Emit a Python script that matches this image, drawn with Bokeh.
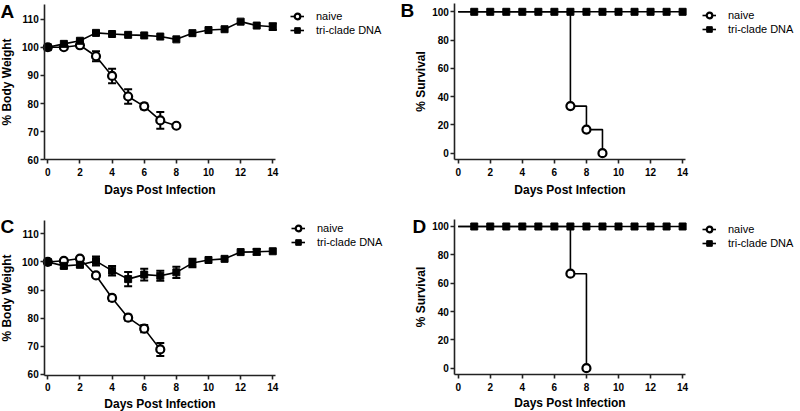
from bokeh.plotting import figure
from bokeh.layouts import gridplot
from bokeh.models import (ColumnDataSource, Whisker, TeeHead, Legend, LegendItem,
                          Range1d, FixedTicker, Label)
from bokeh.embed import file_html
from bokeh.resources import INLINE

FONT = "Liberation Sans"

# ---------------- data ----------------
days = list(range(15))
x_ticks = [0, 2, 4, 6, 8, 10, 12, 14]
weight_ticks = [60, 70, 80, 90, 100, 110]
surv_ticks = [0, 20, 40, 60, 80, 100]

# Panel A: % body weight
naive_A = [100.0, 100.0, 100.7, 96.8, 89.8, 82.5, 79.0, 74.0, 72.1]
naive_A_err = [0, 0, 0, 1.8, 2.6, 2.6, 1.0, 3.0, 0]
tri_A = [100.0, 101.2, 102.3, 105.1, 104.7, 104.4, 104.2, 103.8, 102.8,
         105.0, 106.1, 106.4, 109.1, 107.7, 107.3]
tri_A_err = [0, 0, 0, 0, 0, 0, 0, 0, 0, 0, 0, 0, 0, 0, 1.2]

# Panel B: % survival
naive_B_days = [0, 7, 8, 9]
naive_B = [100, 33.3, 16.7, 0]
tri_B = [100] * 15

# Panel C: % body weight
naive_C = [100.0, 100.4, 101.2, 95.2, 87.2, 80.2, 76.3, 68.9]
naive_C_err = [0, 0, 0, 0, 1.0, 1.0, 1.3, 2.3]
tri_C = [100.0, 98.6, 99.0, 100.3, 96.9, 93.9, 95.5, 95.1, 96.3,
         99.6, 100.7, 101.1, 103.5, 103.6, 103.8]
tri_C_err = [0, 0.8, 0.9, 1.6, 1.7, 2.5, 2.1, 1.8, 2.0, 1.5, 0, 0, 0, 1.0, 0]

# Panel D: % survival
naive_D_days = [0, 7, 8]
naive_D = [100, 66.7, 0]
tri_D = [100] * 15

AX = "#222222"


def base_fig(height, xr, yr, xaxis_at, yaxis_at, xbounds, ybounds, yticks, ylabel,
             ylab_std, xlab_std):
    p = figure(width=400, height=height, output_backend="svg", toolbar_location=None,
               x_range=Range1d(*xr), y_range=Range1d(*yr),
               min_border_left=0, min_border_right=0,
               min_border_top=0, min_border_bottom=0)
    p.outline_line_color = None
    p.grid.grid_line_color = None
    p.xaxis.ticker = FixedTicker(ticks=x_ticks)
    p.yaxis.ticker = FixedTicker(ticks=yticks)
    for ax in (p.xaxis[0], p.yaxis[0]):
        ax.axis_line_color = AX
        ax.axis_line_width = 1.6
        ax.major_tick_line_color = AX
        ax.major_tick_line_width = 1.6
        ax.major_tick_out = 4
        ax.major_tick_in = 0
        ax.minor_tick_line_color = None
        ax.major_label_text_font = FONT
        ax.major_label_text_font_size = "10px"
        ax.major_label_text_font_style = "bold"
        ax.major_label_text_color = "black"
        ax.axis_label_text_font = FONT
        ax.axis_label_text_font_size = "12px"
        ax.axis_label_text_font_style = "bold"
        ax.axis_label_text_color = "black"
    p.xaxis.axis_label = "Days Post Infection"
    p.yaxis.axis_label = ylabel
    p.xaxis.fixed_location = xaxis_at
    p.yaxis.fixed_location = yaxis_at
    p.xaxis.bounds = xbounds
    p.yaxis.bounds = ybounds
    p.xaxis.major_label_standoff = 4
    p.xaxis.axis_label_standoff = xlab_std
    p.yaxis.major_label_standoff = 2
    p.yaxis.axis_label_standoff = ylab_std
    return p


def add_letter(p, letter, x, y):
    p.add_layout(Label(x=x, y=y, x_units="screen", y_units="screen", text=letter,
                       text_font=FONT, text_font_size="19px", text_font_style="bold",
                       text_baseline="alphabetic", text_color="black"))


def err_source(x, y, e):
    idx = [i for i, v in enumerate(e) if v > 0]
    return ColumnDataSource(dict(base=[x[i] for i in idx],
                                 upper=[y[i] + e[i] for i in idx],
                                 lower=[y[i] - e[i] for i in idx]))


def add_whisker(p, src):
    w = Whisker(source=src, base="base", upper="upper", lower="lower",
                line_color="black", line_width=2,
                upper_head=TeeHead(size=8, line_width=2, line_color="black"),
                lower_head=TeeHead(size=8, line_width=2, line_color="black"))
    p.add_layout(w)


def add_legend(p, loc, items):
    leg = Legend(items=items, location=loc,
                 glyph_width=14, glyph_height=14, label_height=14, spacing=0,
                 padding=0, margin=0, label_standoff=12,
                 border_line_color=None, background_fill_alpha=0,
                 label_text_font=FONT, label_text_font_size="11px",
                 label_text_color="black")
    p.add_layout(leg)


def weight_panel(height, yr, xaxis_at, ybounds, naive, naive_err, tri, tri_err,
                 letter, letter_xy, legend_loc, xlab_std):
    p = base_fig(height, (-2.943, 21.948), yr, xaxis_at, -0.19, (-0.19, 14.14), ybounds,
                 weight_ticks, "% Body Weight", 5, xlab_std)
    nd = days[:len(naive)]
    add_whisker(p, err_source(nd, naive, naive_err))
    add_whisker(p, err_source(days, tri, tri_err))
    ln = p.line(nd, naive, line_color="black", line_width=1.6)
    sn = p.scatter(nd, naive, marker="circle", size=8, line_width=2.2,
                   line_color="black", fill_color="white")
    lt = p.line(days, tri, line_color="black", line_width=1.6)
    st = p.scatter(days, tri, marker="square", size=7, line_color="black",
                   fill_color="black")
    add_legend(p, legend_loc, [LegendItem(label="naive", renderers=[ln, sn]),
                               LegendItem(label="tri-clade DNA", renderers=[lt, st])])
    add_letter(p, letter, *letter_xy)
    return p


def surv_panel(height, yr, xaxis_at, ybounds, ndays, naive, tri,
               letter, letter_xy, legend_loc, xlab_std):
    p = base_fig(height, (-3.600, 21.354), yr, xaxis_at, -0.21, (-0.21, 14.2), ybounds,
                 surv_ticks, "% Survival", 1, xlab_std)
    lt = p.line(days, tri, line_color="black", line_width=1.6)
    ln = p.step(ndays, naive, mode="after", line_color="black", line_width=1.6)
    sn = p.scatter(ndays[1:], naive[1:], marker="circle", size=8, line_width=2.2,
                   line_color="black", fill_color="white")
    st = p.scatter(days[1:], tri[1:], marker="square", size=7, line_color="black",
                   fill_color="black")
    add_legend(p, legend_loc, [LegendItem(label="naive", renderers=[ln, sn]),
                               LegendItem(label="tri-clade DNA", renderers=[lt, st])])
    add_letter(p, letter, *letter_xy)
    return p


# row 1: figure height 205; row 2: figure height 206
pA = weight_panel(205, (43.76, 116.61), 60, (60, 115.19),
                  naive_A, naive_A_err, tri_A, tri_A_err, "A", (0, 194), (290, 168), 4)
pB = surv_panel(205, (-36.99, 107.99), -4.67, (-4.67, 105.87),
                naive_B_days, naive_B, tri_B, "B", (0, 195), (302, 169), 4)
pC = weight_panel(206, (46.85, 120.06), 59.7, (59.7, 114.73),
                  naive_C, naive_C_err, tri_C, tri_C_err, "C", (0, 185), (291, 162), 2)
pD = surv_panel(206, (-30.56, 114.82), -4.66, (-4.66, 104.94),
                naive_D_days, naive_D, tri_D, "D", (12, 185), (302, 161), 2)

grid = gridplot([[pA, pB], [pC, pD]], toolbar_location=None)

open("out.html", "w").write(file_html(grid, INLINE))
